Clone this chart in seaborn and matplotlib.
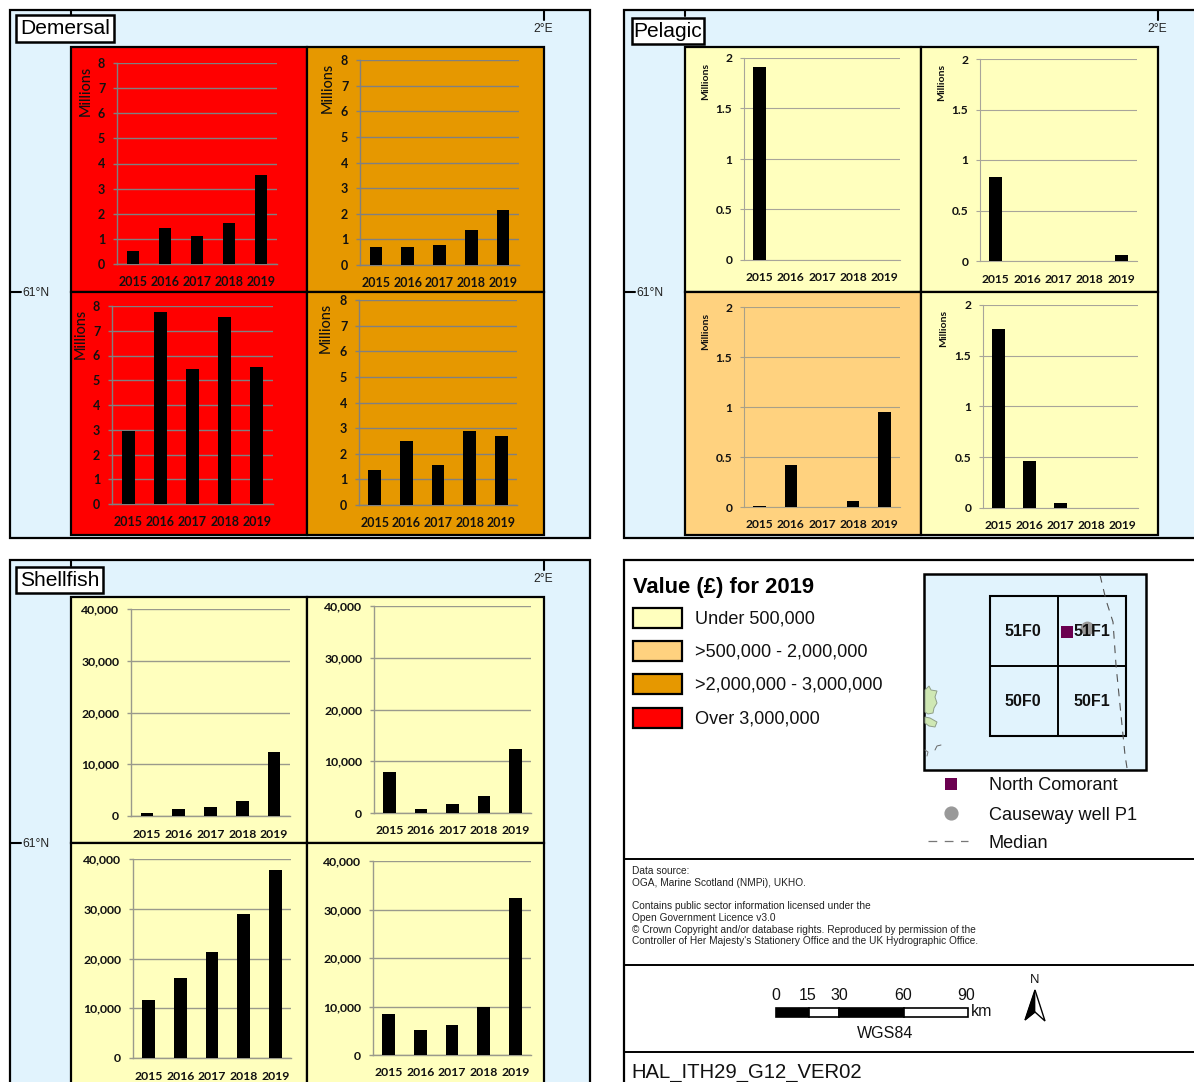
import matplotlib
matplotlib.use('Agg')
import matplotlib.pyplot as plt
from matplotlib.patches import Rectangle, Polygon
import pandas as pd
import seaborn as sns

W, H = 1194, 1082
years = ['2015', '2016', '2017', '2018', '2019']

# Millions
dem_nw = [0.5, 1.45, 1.13, 1.62, 3.55]
dem_ne = [0.7, 0.7, 0.8, 1.38, 2.15]
dem_sw = [2.95, 7.75, 5.45, 7.55, 5.55]
dem_se = [1.35, 2.5, 1.55, 2.9, 2.7]
pel_nw = [1.91, 0, 0, 0, 0]
pel_ne = [0.83, 0, 0, 0, 0.06]
pel_sw = [0.01, 0.42, 0, 0.06, 0.95]
pel_se = [1.76, 0.46, 0.05, 0, 0]
# pounds
she_nw = [500, 1400, 1800, 2900, 12300]
she_ne = [7900, 700, 1700, 3300, 12400]
she_sw = [11600, 16000, 21400, 29000, 37800]
she_se = [8400, 5200, 6200, 9900, 32400]

dem_ticks = [0, 1, 2, 3, 4, 5, 6, 7, 8]
pel_ticks = [0, 0.5, 1, 1.5, 2]
she_ticks = [0, 10000, 20000, 30000, 40000]

legend_labels = ['Under 500,000', '>500,000 - 2,000,000', '>2,000,000 - 3,000,000', 'Over 3,000,000']

YELLOW = '#FFFFBE'
PEACH = '#FFD27F'
ORANGE = '#E69800'
RED = '#FF0000'
SEA = '#E1F3FD'

sns.set_theme(style='white')
plt.rcParams['font.family'] = ['Liberation Sans', 'DejaVu Sans']

fig = plt.figure(figsize=(W / 100, H / 100), dpi=100, facecolor='white')
bg = fig.add_axes([0, 0, 1, 1])
bg.set_xlim(0, W)
bg.set_ylim(H, 0)
bg.axis('off')


def pt(px):
    return px * 0.72


def box(x0, y0, x1, y1, fc, lw=1.6, ec='black', z=1):
    bg.add_patch(Rectangle((x0, y0), x1 - x0, y1 - y0, fc=fc, ec=ec, lw=lw, zorder=z))


def chart(values, ticks, x0, x1, ytop, y0, fmt, lab=12.2, ylab=None, grid='#808080', glw=1.0, xpad=8):
    ax = fig.add_axes([x0 / W, 1 - y0 / H, (x1 - x0) / W, (y0 - ytop) / H])
    ax.patch.set_alpha(0)
    df = pd.DataFrame({'year': years, 'value': values})
    sns.barplot(data=df, x='year', y='value', color='black', width=0.4, saturation=1, linewidth=0, ax=ax, zorder=3)
    ax.set_xlim(-0.5, 4.5)
    ax.set_ylim(0, ticks[-1])
    ax.set_yticks(ticks)
    ax.set_yticklabels([fmt(t) for t in ticks])
    ax.set_xlabel('')
    ax.set_ylabel('')
    ax.grid(axis='y', color=grid, lw=glw, zorder=0)
    ax.set_axisbelow(True)
    for s in ['top', 'right']:
        ax.spines[s].set_visible(False)
    for s in ['left', 'bottom']:
        ax.spines[s].set_color(grid)
        ax.spines[s].set_linewidth(glw)
    ax.tick_params(axis='y', left=True, length=3, width=glw, color=grid, pad=5.5)
    ax.set_xticks([-0.5, 0.5, 1.5, 2.5, 3.5, 4.5], minor=True)
    ax.tick_params(axis='x', which='major', length=0, pad=xpad)
    ax.tick_params(axis='x', which='minor', length=3, width=glw, color=grid)
    for t in ax.get_xticklabels() + ax.get_yticklabels():
        t.set_fontfamily('Lato')
        t.set_fontweight('bold')
        t.set_fontsize(pt(lab))
        t.set_color('#111111')
    if ylab:
        bg.text(ylab[0], ylab[1], 'Millions', rotation=90, ha='center', va='center', family='Lato',
                fontsize=pt(ylab[2]), fontweight=ylab[3], color='#111111', zorder=5)
    return ax


def plain(t):
    return f'{t:g}'


def thousands(t):
    return f'{t:,}'


def frame(x0, y0, x1, y1, gx0, gx1, gy0, gy1, mx, my, fills, title, tb, tx_2e, tick_x):
    box(x0, y0, x1, y1, SEA)
    # graticule ticks
    bg.plot([tick_x, tick_x], [y0, y0 + 6], color='black', lw=1.5, zorder=2)
    bg.plot([tx_2e, tx_2e], [y0, y0 + 10], color='black', lw=1.5, zorder=2)
    bg.plot([x0, x0 + 11], [my, my], color='black', lw=1.5, zorder=2)
    bg.text(tx_2e - 1, y0 + 18.5, '2°E', ha='center', va='center', fontsize=pt(12), color='#222222', zorder=2)
    bg.text(x0 + 12, my + 1, '61°N', ha='left', va='center', fontsize=pt(12), color='#222222', zorder=2)
    box(gx0, gy0, mx, my, fills[0], z=2)
    box(mx, gy0, gx1, my, fills[1], z=2)
    box(gx0, my, mx, gy1, fills[2], z=2)
    box(mx, my, gx1, gy1, fills[3], z=2)
    box(tb[0], tb[1], tb[2], tb[3], 'white', lw=1.8, z=3)
    bg.text((tb[0] + tb[2]) / 2, (tb[1] + tb[3]) / 2 + 0.5, title, ha='center', va='center',
            fontsize=pt(21), color='black', zorder=4)


frame(10, 10, 590, 538, 71, 544, 47, 535, 307, 292, [RED, ORANGE, RED, ORANGE],
      'Demersal', (16, 15, 114, 42), 544, 71)
frame(624, 10, 1200, 538, 685, 1158, 47, 535, 921, 292, [YELLOW, YELLOW, PEACH, YELLOW],
      'Pelagic', (632, 18, 704, 44), 1158, 685)
frame(10, 560, 590, 1090, 71, 544, 597, 1090, 307, 843, [YELLOW, YELLOW, YELLOW, YELLOW],
      'Shellfish', (16, 567, 103, 593), 544, 71)

chart(dem_nw, dem_ticks, 117, 277, 63, 264, plain, 12.5, (86, 91, 14.5, 'medium'), xpad=8.5)
chart(dem_ne, dem_ticks, 360, 519, 60, 265, plain, 12.5, (328, 88, 14.5, 'medium'), xpad=8.5)
chart(dem_sw, dem_ticks, 112, 273, 306, 504, plain, 12.5, (81, 334, 14.5, 'medium'), xpad=8.5)
chart(dem_se, dem_ticks, 359, 517, 300, 505, plain, 12.5, (326, 328, 14.5, 'medium'), xpad=8.5)

chart(pel_nw, pel_ticks, 744, 900, 58, 260, plain, 12, (706, 81, 10.5, 'bold'), '#a8a59a', 0.8, 9)
chart(pel_ne, pel_ticks, 980, 1137, 59, 261, plain, 12, (942, 82, 10.5, 'bold'), '#a8a59a', 0.8, 9)
chart(pel_sw, pel_ticks, 744, 900, 307, 507, plain, 12, (706, 331, 10.5, 'bold'), '#a8a088', 0.8, 9)
chart(pel_se, pel_ticks, 983, 1138, 305, 508, plain, 12, (944, 328, 10.5, 'bold'), '#a8a59a', 0.8, 9)

chart(she_nw, she_ticks, 131, 290, 609, 816, thousands, 12.2, None, '#9a9a8c', 1.0, 9)
chart(she_ne, she_ticks, 374, 531, 606, 813, thousands, 12.2, None, '#9a9a8c', 1.0, 9)
chart(she_sw, she_ticks, 133, 291, 859, 1058, thousands, 12.2, None, '#9a9a8c', 1.0, 9)
chart(she_se, she_ticks, 373, 531, 861, 1055, thousands, 12.2, None, '#9a9a8c', 1.0, 9)

# legend panel
box(624, 560, 1200, 1090, 'white')
for yy in [859, 965, 1052]:
    bg.plot([624, W], [yy, yy], color='black', lw=1.4, zorder=2)

bg.text(633, 587, 'Value (£) for 2019', fontsize=pt(22), fontweight='bold', va='center', color='black', zorder=3)
for yy, c, lb in zip([608, 641, 674, 708], [YELLOW, PEACH, ORANGE, RED], legend_labels):
    box(633, yy, 682, yy + 20, c, z=3)
    bg.text(695, yy + 11, lb, fontsize=pt(18.2), va='center', color='#111111', zorder=3)

# inset map
box(924, 574, 1146, 770, SEA, lw=1.8, z=2)
box(990, 596, 1126, 736, 'none', lw=1.5, z=3)
bg.plot([1058, 1058], [596, 736], color='black', lw=1.4, zorder=3)
bg.plot([990, 1126], [666, 666], color='black', lw=1.4, zorder=3)
med_x = [1100, 1106, 1113, 1116, 1120, 1125, 1127]
med_y = [575, 600, 622, 665, 705, 755, 768]
bg.plot(med_x, med_y, color='#555555', lw=0.8, ls=(0, (7, 6)), zorder=3)
for lb, cx, cy in [('51F0', 1023, 631), ('51F1', 1092, 631), ('50F0', 1023, 701), ('50F1', 1092, 701)]:
    bg.text(cx, cy, lb, ha='center', va='center', fontsize=pt(16), fontweight='bold', color='#111111', zorder=6)
bg.add_patch(Polygon([(925, 690), (929, 686), (931, 690), (937, 691), (935, 697), (937, 703), (934, 708),
                      (933, 713), (928, 714), (925, 712)], fc='#CFE8B4', ec='#8f9f88', lw=0.7, zorder=3))
bg.add_patch(Polygon([(925, 717), (930, 718), (937, 722), (935, 727), (929, 726), (925, 723)],
                     fc='#CFE8B4', ec='#8f9f88', lw=0.7, zorder=3))
bg.plot([935, 937, 941], [750, 746, 745], color='#666666', lw=0.7, zorder=3)
bg.plot([925, 928, 927], [750, 752, 756], color='#777777', lw=0.7, zorder=3)
bg.scatter([1087], [628], s=80, marker='o', color='#999999', zorder=4)
bg.scatter([1067], [632], s=80, marker='s', color='#6B0050', linewidths=0, zorder=5)

bg.scatter([951], [784], s=85, marker='s', color='#6B0050', linewidths=0, zorder=5)
bg.scatter([951], [813], s=85, marker='o', color='#999999', zorder=5)
bg.plot([928, 968], [841, 841], color='#777777', lw=0.9, ls=(0, (7, 6)), zorder=5)
for yy, lb in zip([785, 814, 842], ['North Comorant', 'Causeway well P1', 'Median']):
    bg.text(989, yy + 1, lb, fontsize=pt(18.1), va='center', color='#111111', zorder=5)

notes = ['Data source:', 'OGA, Marine Scotland (NMPi), UKHO.',
         'Contains public sector information licensed under the', 'Open Government Licence v3.0',
         '© Crown Copyright and/or database rights. Reproduced by permission of the',
         "Controller of Her Majesty's Stationery Office and the UK Hydrographic Office."]
for yy, lb in zip([871, 883, 906, 918, 930, 941], notes):
    bg.text(632, yy, lb, fontsize=pt(10.1), va='center', color='#222222', zorder=3)

# scale bar
for a, b, c in [(776, 809, 'black'), (809, 839, 'white'), (839, 904, 'black'), (904, 968, 'white')]:
    box(a, 1008, b, 1017, c, lw=1.2, z=3)
for xx, lb in zip([776, 808, 839, 903, 966], ['0', '15', '30', '60', '90']):
    bg.text(xx, 996, lb, ha='center', va='center', fontsize=pt(16), color='#111111', zorder=3)
bg.text(971, 1011, 'km', va='center', fontsize=pt(16), color='#111111', zorder=3)
bg.text(885, 1033, 'WGS84', ha='center', va='center', fontsize=pt(16), color='#111111', zorder=3)
bg.text(1035, 980, 'N', ha='center', va='center', fontsize=pt(13), color='#111111', zorder=3)
bg.add_patch(Polygon([(1035, 990), (1025, 1020), (1035, 1012), (1045, 1021)], fc='white', ec='black', lw=1, zorder=3))
bg.add_patch(Polygon([(1035, 990), (1025, 1020), (1035, 1012)], fc='black', ec='black', lw=0.5, zorder=3))
bg.text(631, 1072, 'HAL_ITH29_G12_VER02', va='center', fontsize=pt(20.3), color='#111111', zorder=3)

fig.savefig('out.png', dpi=100)
